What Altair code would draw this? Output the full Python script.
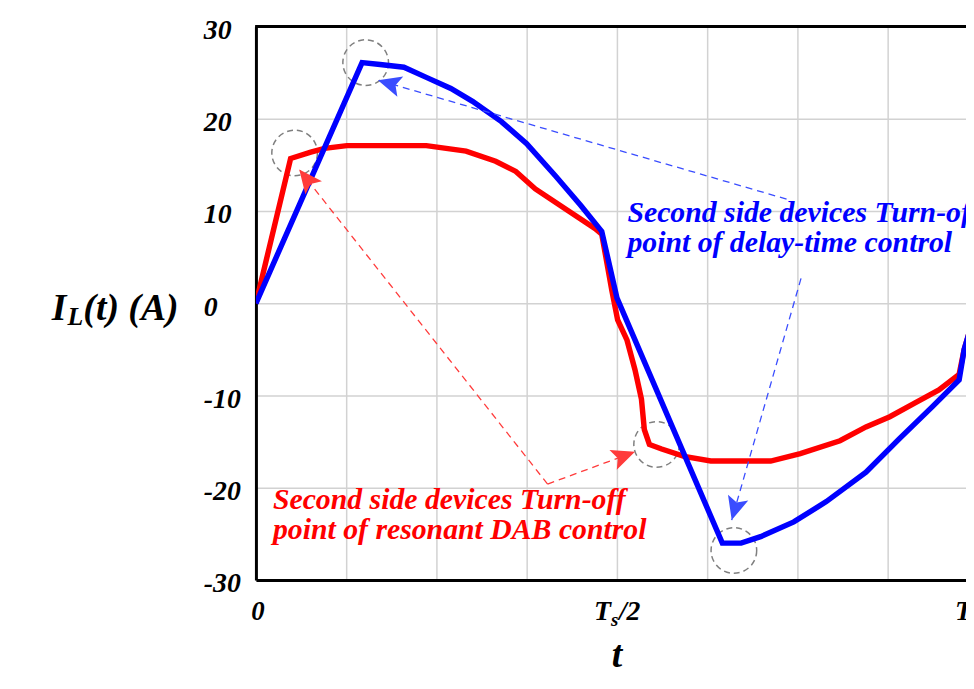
import math
import altair as alt
import pandas as pd

FONT = "Liberation Serif"

# ---- data (t in units of Ts, current in A) ----
red_t = [0.0, 0.048, 0.076, 0.095, 0.126, 0.213, 0.236, 0.291, 0.332, 0.36, 0.387, 0.433, 0.47,
         0.479, 0.493, 0.501, 0.514, 0.525, 0.534, 0.538, 0.545, 0.562, 0.593, 0.63, 0.713,
         0.754, 0.809, 0.845, 0.878, 0.913, 0.946, 0.974, 0.981, 1.0]
red_i = [0.0, 15.7, 16.4, 16.8, 17.1, 17.1, 17.1, 16.5, 15.4, 14.3, 12.4, 10.0, 8.1,
         7.5, 1.4, -1.8, -4.0, -7.2, -10.4, -13.7, -15.3, -15.8, -16.6, -17.1, -17.1,
         -16.3, -14.9, -13.4, -12.3, -10.8, -9.4, -7.7, -5.0, 0.0]

blue_t = [0.0, 0.147, 0.172, 0.205, 0.236, 0.27, 0.3, 0.34, 0.375, 0.415, 0.45, 0.479, 0.5,
          0.646, 0.672, 0.699, 0.745, 0.79, 0.845, 0.891, 0.937, 0.974, 0.981, 1.0]
blue_i = [0.0, 26.1, 25.9, 25.6, 24.5, 23.3, 21.9, 19.7, 17.3, 13.8, 10.6, 7.8, 0.6,
          -26.0, -26.0, -25.3, -23.7, -21.5, -18.3, -14.7, -11.2, -8.3, -5.0, 0.0]

circle_t = [0.0536, 0.152, 0.555, 0.662]
circle_i = [16.3, 26.1, -15.3, -26.8]

arrow_series = ["red", "red", "blue", "blue"]
arrow_t0 = [0.404, 0.404, 0.735, 0.755]
arrow_i0 = [-19.6, -19.6, 11.3, 2.7]
arrow_t1 = [0.060, 0.525, 0.169, 0.659]
arrow_i1 = [14.5, -16.1, 24.2, -23.5]

red_label = ["Second side devices Turn-off", "point of resonant DAB control"]
red_label_t = [0.0235, 0.0235]
red_label_i = [-22.3, -25.5]
blue_label = ["Second side devices Turn-off", "point of delay-time control"]
blue_label_t = [0.5145, 0.5145]
blue_label_i = [8.8, 5.6]

y_ticks = [-30, -20, -10, 0, 10, 20, 30]
x_grid = [0.0, 0.125, 0.25, 0.375, 0.5, 0.625, 0.75, 0.875]

# ---- layout ----
PERIOD_PX = 728          # pixels for one full period
W = 716                  # visible plot width (period is cut at window edge)
H = 558
T_MAX = W / PERIOD_PX
PX_T = PERIOD_PX
PX_I = H / 60.0

xs = alt.Scale(domain=[0, T_MAX], nice=False, zero=False)
ys = alt.Scale(domain=[-30, 30], nice=False, zero=False)

x_axis = alt.Axis(values=x_grid, labels=False, ticks=False, title=None, grid=True,
                  gridColor="#d2d2d2", gridWidth=1.5, domainColor="black", domainWidth=3)
y_axis = alt.Axis(values=y_ticks, ticks=False, tickSize=0, labelPadding=53, labelAlign="left",
                  labelExpr="'' + datum.value",
                  labelFont=FONT, labelFontSize=28, labelFontStyle="italic", labelFontWeight="bold",
                  labelColor="black", labelOffset=4, title=None, grid=True, gridColor="#d2d2d2",
                  gridWidth=1.5, domainColor="black", domainWidth=3)

df_red = pd.DataFrame({"t": red_t, "i": red_i})
df_blue = pd.DataFrame({"t": blue_t, "i": blue_i})
df_circ = pd.DataFrame({"t": circle_t, "i": circle_i})

angles = []
for a, b, c, d in zip(arrow_t0, arrow_i0, arrow_t1, arrow_i1):
    dx = (c - a) * PX_T
    dy_up = (d - b) * PX_I
    angles.append(math.degrees(math.atan2(dx, dy_up)) % 360)
df_arr = pd.DataFrame({"s": arrow_series, "t0": arrow_t0, "i0": arrow_i0,
                       "t1": arrow_t1, "i1": arrow_i1, "ang": angles})

df_rtxt = pd.DataFrame({"t": red_label_t, "i": red_label_i, "txt": red_label})
df_btxt = pd.DataFrame({"t": blue_label_t, "i": blue_label_i, "txt": blue_label})

col_scale = alt.Scale(domain=["red", "blue"], range=["#ff3b3b", "#3a4dff"])
head_scale = alt.Scale(domain=["red", "blue"], range=["#ff0000", "#0000ff"])


def X(f):
    return alt.X(f, type="quantitative", scale=xs, axis=x_axis)


def Y(f):
    return alt.Y(f, type="quantitative", scale=ys, axis=y_axis)


circles = alt.Chart(df_circ).mark_point(
    shape="circle", filled=False, size=2116, color="#7f7f7f", strokeDash=[6, 4],
    strokeWidth=1.5, opacity=1,
).encode(x=X("t"), y=Y("i"))

red_line = alt.Chart(df_red).mark_line(color="#ff0000", strokeWidth=5.5, clip=True).encode(
    x=X("t"), y=Y("i"))
blue_line = alt.Chart(df_blue).mark_line(color="#0000ff", strokeWidth=5.5, clip=True).encode(
    x=X("t"), y=Y("i"))

arrow_lines = alt.Chart(df_arr).mark_rule(strokeDash=[7, 5], strokeWidth=1.3).encode(
    x=X("t0"), y=Y("i0"), x2="t1:Q", y2="i1:Q",
    color=alt.Color("s:N", scale=col_scale, legend=None))

arrow_heads = alt.Chart(df_arr).mark_point(
    shape="M0,0 L0.95,2.1 L0,1.65 L-0.95,2.1 Z", filled=True, size=500, opacity=1, strokeWidth=0,
).encode(x=X("t1"), y=Y("i1"), angle=alt.Angle("ang:Q", scale=None),
         color=alt.Color("s:N", scale=head_scale, legend=None))

txt_style = dict(align="left", baseline="alphabetic", font=FONT, fontSize=30,
                 fontStyle="italic", fontWeight="bold")
red_txt = alt.Chart(df_rtxt).mark_text(color="#ff0000", **txt_style).encode(
    x=X("t"), y=Y("i"), text="txt:N")
blue_txt = alt.Chart(df_btxt).mark_text(color="#0000ff", **txt_style).encode(
    x=X("t"), y=Y("i"), text="txt:N")

top_border = alt.Chart(df_red).mark_rule(color="black", strokeWidth=3).encode(
    x=alt.value(0), x2=alt.value(W), y=alt.value(0))

lab = dict(font=FONT, fontStyle="italic", fontWeight="bold", color="black", baseline="alphabetic")
one = pd.DataFrame({"k": [0]})


def label(text, x, y, size, align="left"):
    return alt.Chart(one).mark_text(text=text, fontSize=size, align=align, **lab).encode(
        x=alt.value(x), y=alt.value(y))


half = 0.5 * PERIOD_PX
full = 1.0 * PERIOD_PX
tick_base = 598
labels = [
    label("0", 2, tick_base, 27, "center"),
    label("T", half - 23, tick_base, 28),
    label("s", half - 6, tick_base + 6, 19),
    label("/2", half + 2, tick_base, 28),
    label("T", full - 23, tick_base, 28),
    label("s", full - 6, tick_base + 6, 19),
    label("t", half, 646, 38, "center"),
    label("I", -206, 296, 38),
    label("L", -190, 301, 26),
    label("(t) (A)", -174, 296, 38),
]

chart = alt.layer(
    circles, red_line, blue_line, arrow_lines, arrow_heads,
    red_txt, blue_txt, top_border, *labels
).properties(
    width=W, height=H,
    autosize=alt.AutoSizeParams(type="none"),
    padding={"left": 250, "top": 16, "right": 0, "bottom": 94},
).configure_view(stroke=None)

chart.save("out.html", embed_options={"renderer": "svg", "actions": False})
